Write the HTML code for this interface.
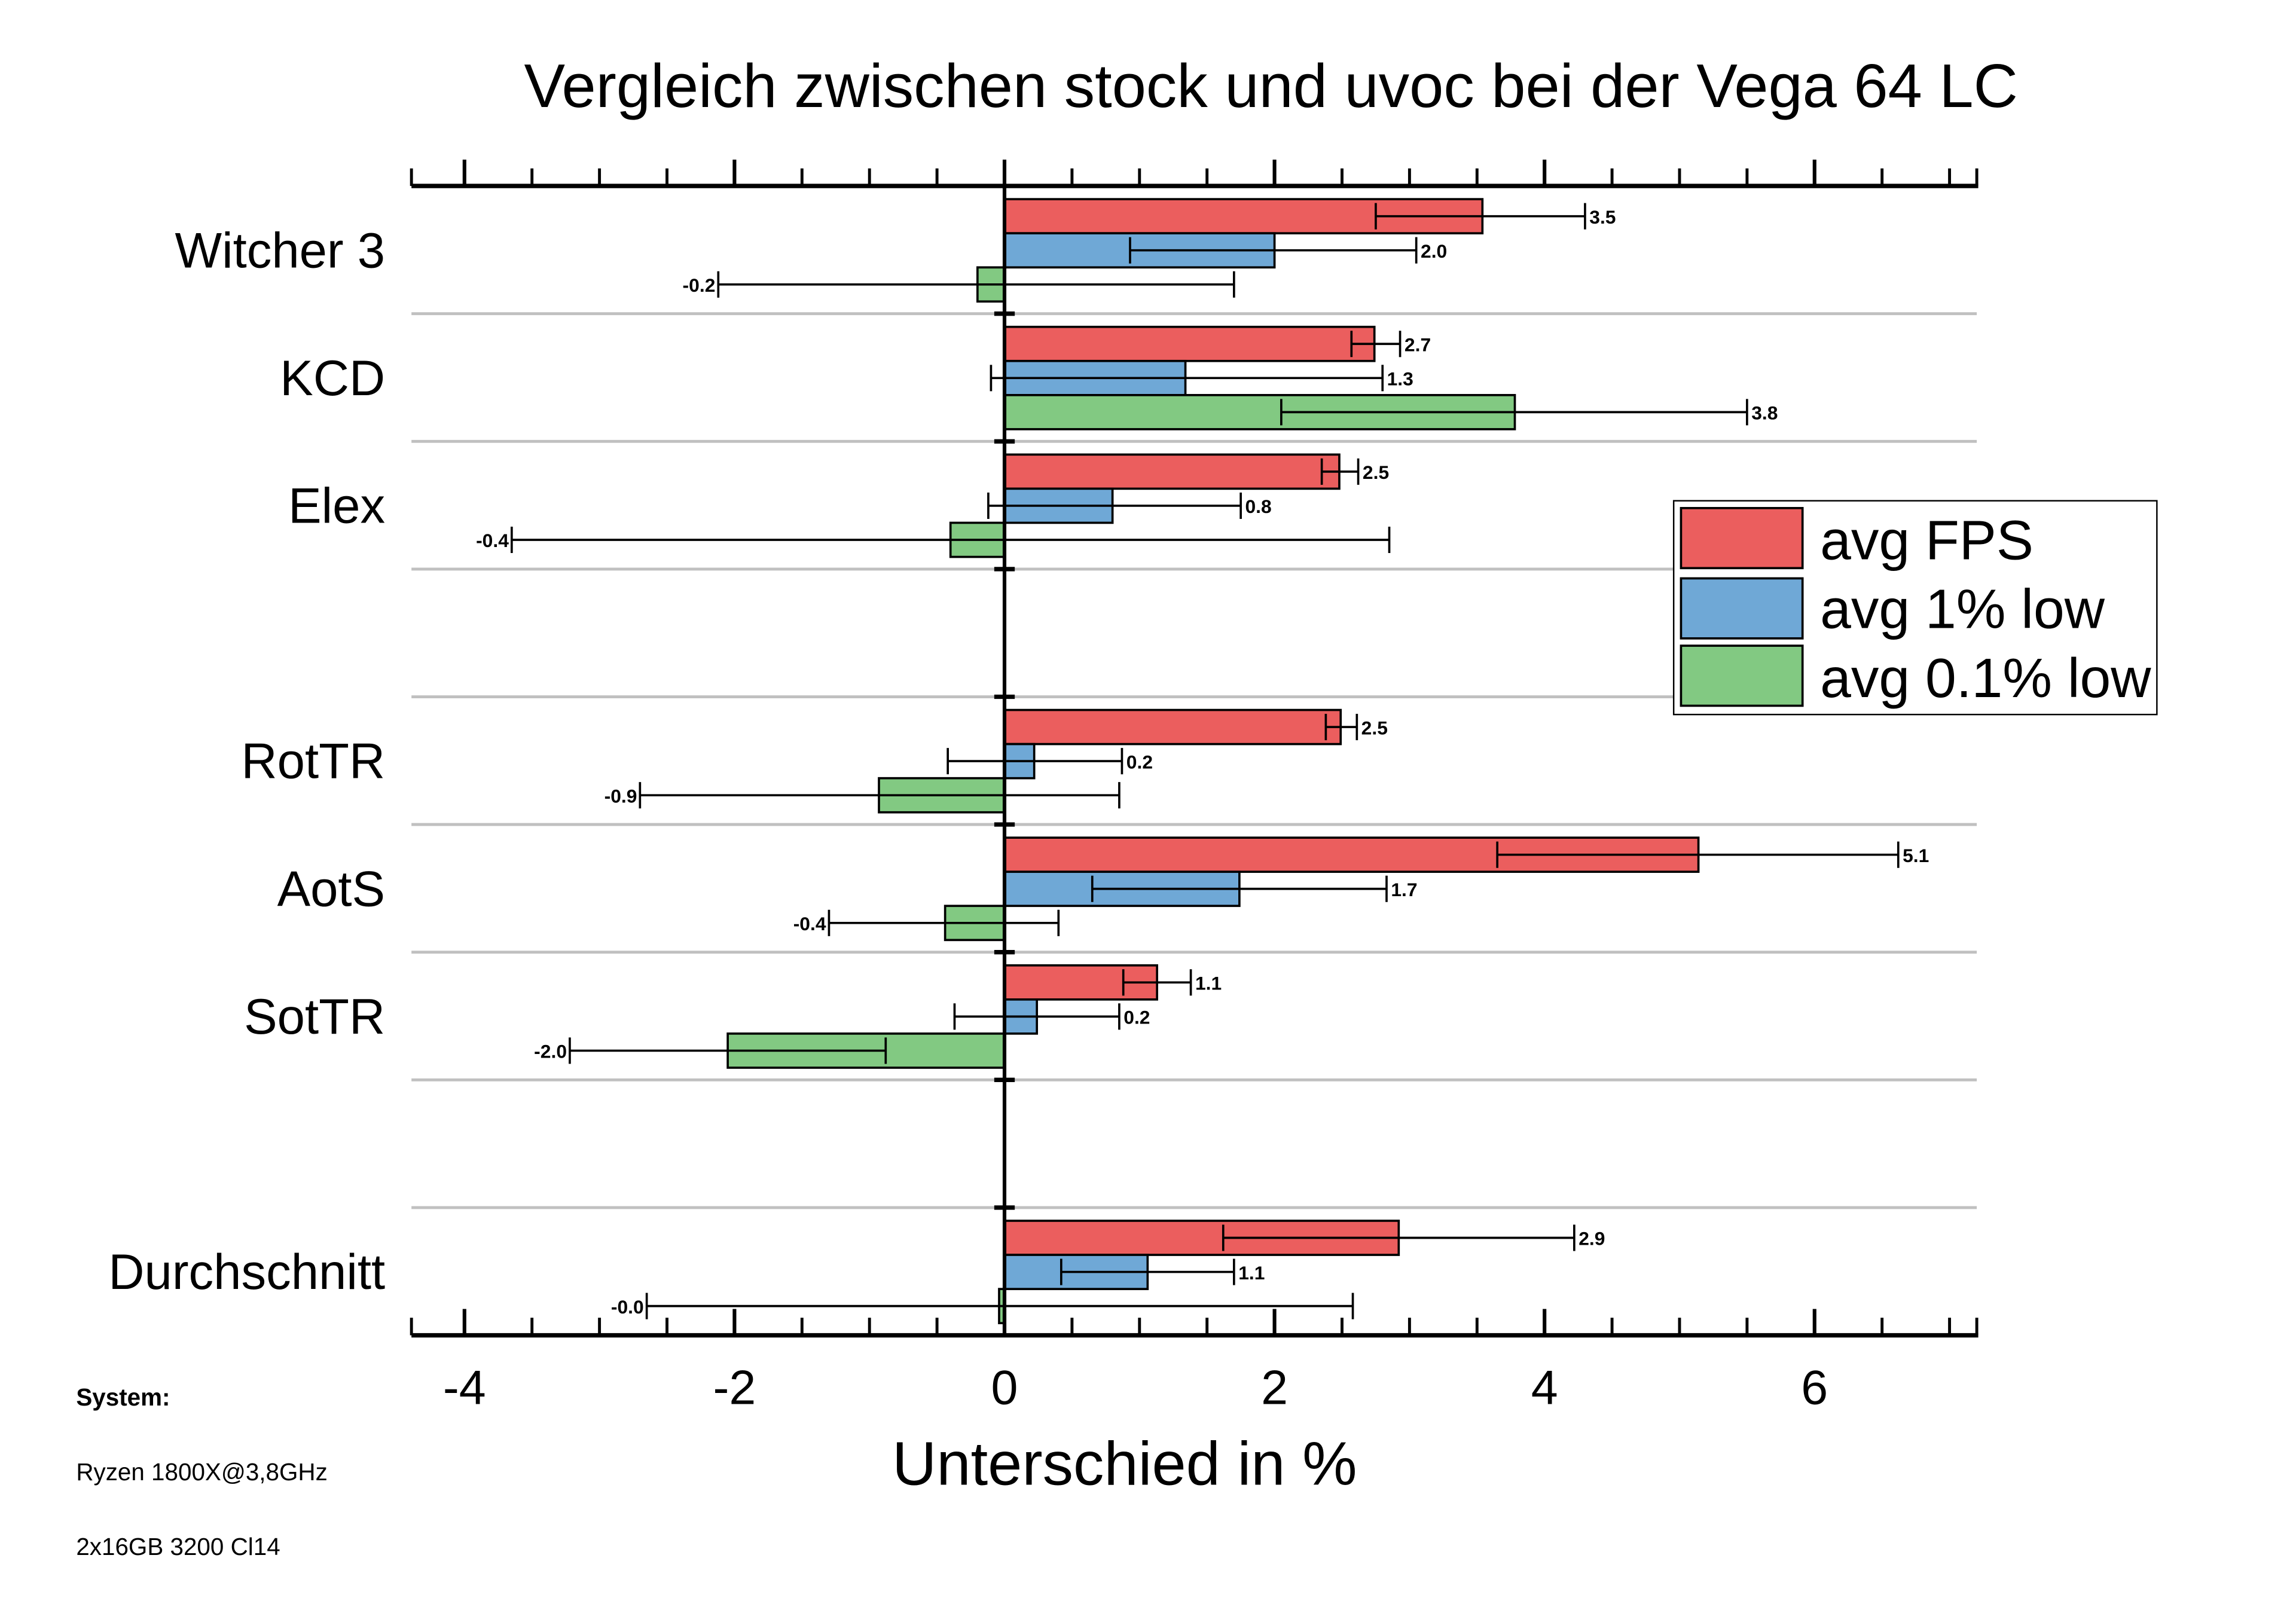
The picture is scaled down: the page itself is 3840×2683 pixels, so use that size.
<!DOCTYPE html>
<html><head><meta charset="utf-8"><style>html,body{margin:0;padding:0;background:#fff}svg{display:block}text{font-family:"Liberation Sans",sans-serif}</style></head>
<body>
<svg id="chart" width="3840" height="2683" viewBox="0 0 1568 1095.5">
<text x="868" y="73" font-size="42" text-anchor="middle">Vergleich zwischen stock und uvoc bei der Vega 64 LC</text>
<g id="grid"></g><g id="bars"></g><g id="axes"></g>
<text x="768" y="1014" font-size="42" text-anchor="middle">Unterschied in %</text>
<text x="52" y="960" font-size="16.5" font-weight="bold">System:</text>
<text x="52" y="1011" font-size="16.5">Ryzen 1800X@3,8GHz</text>
<text x="52" y="1062" font-size="16.5">2x16GB 3200 Cl14</text>
<g>
<rect x="1143" y="342" width="330" height="146" fill="#fff" stroke="#000" stroke-width="1"/>
<rect x="1148" y="347" width="83" height="41" fill="#eb5e5e" stroke="#000" stroke-width="1.5"/>
<text x="1243" y="382" font-size="38">avg FPS</text>
<rect x="1148" y="395" width="83" height="41" fill="#6fa8d6" stroke="#000" stroke-width="1.5"/>
<text x="1243" y="429" font-size="38">avg 1% low</text>
<rect x="1148" y="441" width="83" height="41" fill="#82c982" stroke="#000" stroke-width="1.5"/>
<text x="1243" y="476" font-size="38">avg 0.1% low</text>
</g>
</svg>
<script>
const categories=["Witcher 3","KCD","Elex","","RotTR","AotS","SotTR","","Durchschnitt"];
const avgFps=[3.54,2.74,2.48,null,2.49,5.14,1.13,null,2.92];
const avgFpsLo=[2.75,2.57,2.35,null,2.38,3.65,0.88,null,1.62];
const avgFpsHi=[4.3,2.93,2.62,null,2.61,6.62,1.38,null,4.22];
const low1=[2.0,1.34,0.8,null,0.22,1.74,0.24,null,1.06];
const low1Lo=[0.93,-0.1,-0.12,null,-0.42,0.65,-0.37,null,0.42];
const low1Hi=[3.05,2.8,1.75,null,0.87,2.83,0.85,null,1.7];
const low01=[-0.2,3.78,-0.4,null,-0.93,-0.44,-2.05,null,-0.04];
const low01Lo=[-2.12,2.05,-3.65,null,-2.7,-1.3,-3.22,null,-2.65];
const low01Hi=[1.7,5.5,2.85,null,0.85,0.4,-0.88,null,2.58];
const xTicks=[-4,-2,0,2,4,6];
const NS="http://www.w3.org/2000/svg";
const X0=686,PX=92.2,TOP=127,BOT=912,SLOT=(BOT-TOP)/9;
const sx=v=>X0+v*PX;
function mk(t,a,p){const e=document.createElementNS(NS,t);for(const k in a)e.setAttribute(k,a[k]);p.appendChild(e);return e;}
const grid=document.getElementById('grid'),bars=document.getElementById('bars'),axes=document.getElementById('axes');
for(let i=1;i<9;i++){const y=TOP+i*SLOT;const l=mk('line',{x1:281,x2:1350,y1:y,y2:y,stroke:'#c0c0c0','stroke-width':2},grid);


mk('line',{x1:sx(0)-7,x2:sx(0)+7,y1:y,y2:y,stroke:'#000','stroke-width':3},axes);}
const series=[{v:avgFps,lo:avgFpsLo,hi:avgFpsHi,c:'#eb5e5e',n:'avg-fps'},{v:low1,lo:low1Lo,hi:low1Hi,c:'#6fa8d6',n:'avg-1-low'},{v:low01,lo:low01Lo,hi:low01Hi,c:'#82c982',n:'avg-01-low'}];
categories.forEach((cat,i)=>{
 const y0=TOP+i*SLOT+9;
 if(cat){const t=mk('text',{x:263,y:TOP+i*SLOT+SLOT/2+12,'font-size':34,'text-anchor':'end'},axes);t.textContent=cat;
 
 }
 series.forEach((s,j)=>{
  const v=s.v[i];if(v==null)return;
  const y=y0+j*23.3,h=23.3;
  const r=mk('rect',{x:Math.min(sx(0),sx(v)),y:y,width:Math.abs(sx(v)-sx(0)),height:h,fill:s.c,stroke:'#000','stroke-width':1.5},bars);
  
  
  const cy=y+h/2,a=sx(s.lo[i]),b=sx(s.hi[i]);
  const e=mk('g',{},bars);
  
  
  mk('line',{x1:a,x2:b,y1:cy,y2:cy,stroke:'#000','stroke-width':1.5},e);
  mk('line',{x1:a,x2:a,y1:cy-9,y2:cy+9,stroke:'#000','stroke-width':1.5},e);
  mk('line',{x1:b,x2:b,y1:cy-9,y2:cy+9,stroke:'#000','stroke-width':1.5},e);
  const lab=v.toFixed(1);
  const t=mk('text',v>=0?{x:b+3,y:cy+5,'font-size':13,'font-weight':'bold'}:{x:a-2,y:cy+5,'font-size':13,'font-weight':'bold','text-anchor':'end'},bars);
  t.textContent=lab;
  
  
 });
});
[TOP,BOT].forEach((y,k)=>{mk('line',{x1:281,x2:1351,y1:y,y2:y,stroke:'#000','stroke-width':3},axes);
 for(let v=-4.5;v<=7.01;v+=0.5){const major=Math.abs(v%2)<1e-6;const len=major?18:12;const x=sx(v);if(x<281)continue;
  mk('line',{x1:x,x2:x,y1:k?y:y-len,y2:k?y-len:y,stroke:'#000','stroke-width':major?2.5:2},axes);}
 mk('line',{x1:281,x2:281,y1:k?y:y-12,y2:k?y-12:y,stroke:'#000','stroke-width':2},axes);
 mk('line',{x1:1350,x2:1350,y1:k?y:y-12,y2:k?y-12:y,stroke:'#000','stroke-width':2},axes);
});
const zl=mk('line',{x1:sx(0),x2:sx(0),y1:TOP,y2:BOT,stroke:'#000','stroke-width':2.5},axes);


xTicks.forEach(v=>{const t=mk('text',{x:sx(v),y:959,'font-size':33,'text-anchor':'middle'},axes);t.textContent=String(v);
 
 });
</script>
</body></html>
